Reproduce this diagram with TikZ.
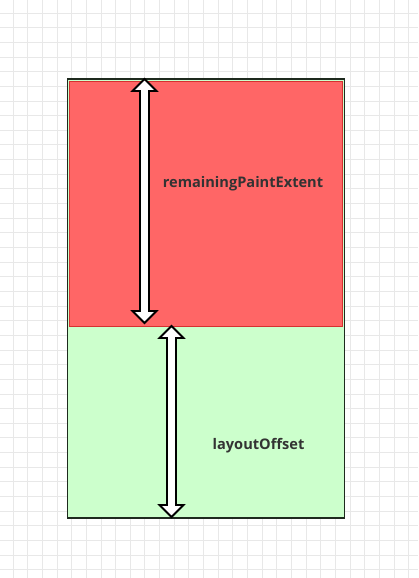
\documentclass[tikz,border=0pt]{standalone}
\usepackage{fontspec}
\setmainfont{Open Sans}
\definecolor{gridc}{HTML}{E8E8E8}
\definecolor{redfill}{HTML}{FF6666}
\definecolor{redline}{HTML}{D63030}
\definecolor{greenfill}{HTML}{CCFFCC}
\definecolor{outline}{HTML}{1E2A1E}
\definecolor{txt}{HTML}{333333}
\begin{document}
\begin{tikzpicture}[x=1pt,y=-1pt,
  lbl/.style={font=\bfseries\fontsize{14.6}{16}\selectfont, text=txt, inner sep=0pt},
  blockarrow/.style={draw=black, line width=1.8pt, fill=white, line join=miter}]
\useasboundingbox (0,0) rectangle (418,578);
\fill[white] (0,0) rectangle (418,578);
% grid
\foreach \i in {0,...,28} {
  \draw[gridc, line width=0.8pt] ({13+14.65*\i},0) -- ({13+14.65*\i},578);
}
\foreach \i in {0,...,39} {
  \draw[gridc, line width=0.8pt] (0,{13+14.65*\i}) -- (418,{13+14.65*\i});
}
% green region and outer frame
\node[draw=outline, line width=1.8pt, fill=greenfill, minimum width=277pt, minimum height=439pt, anchor=north west, inner sep=0pt] (frame) at (66.5,78) {};
\node[draw=redline, line width=1pt, fill=redfill, minimum width=273pt, minimum height=245pt, anchor=north west, inner sep=0pt] (top) at (68.5,81) {};
% arrow 1: remainingPaintExtent
\def\c{144.5}\def\t{79}\def\b{323}
\draw[blockarrow] (\c,\t) -- (\c+12,\t+12) -- (\c+4.5,\t+12) -- (\c+4.5,\b-12) -- (\c+12,\b-12) -- (\c,\b) -- (\c-12,\b-12) -- (\c-4.5,\b-12) -- (\c-4.5,\t+12) -- (\c-12,\t+12) -- cycle;
% arrow 2: layoutOffset
\def\c{171.5}\def\t{326}\def\b{517}
\draw[blockarrow] (\c,\t) -- (\c+12,\t+12) -- (\c+4.5,\t+12) -- (\c+4.5,\b-12) -- (\c+12,\b-12) -- (\c,\b) -- (\c-12,\b-12) -- (\c-4.5,\b-12) -- (\c-4.5,\t+12) -- (\c-12,\t+12) -- cycle;
\node[lbl] (l1) at (243,184) {remainingPaintExtent};
\node[lbl] (l2) at (258.5,445.5) {layoutOffset};
\end{tikzpicture}
\end{document}
